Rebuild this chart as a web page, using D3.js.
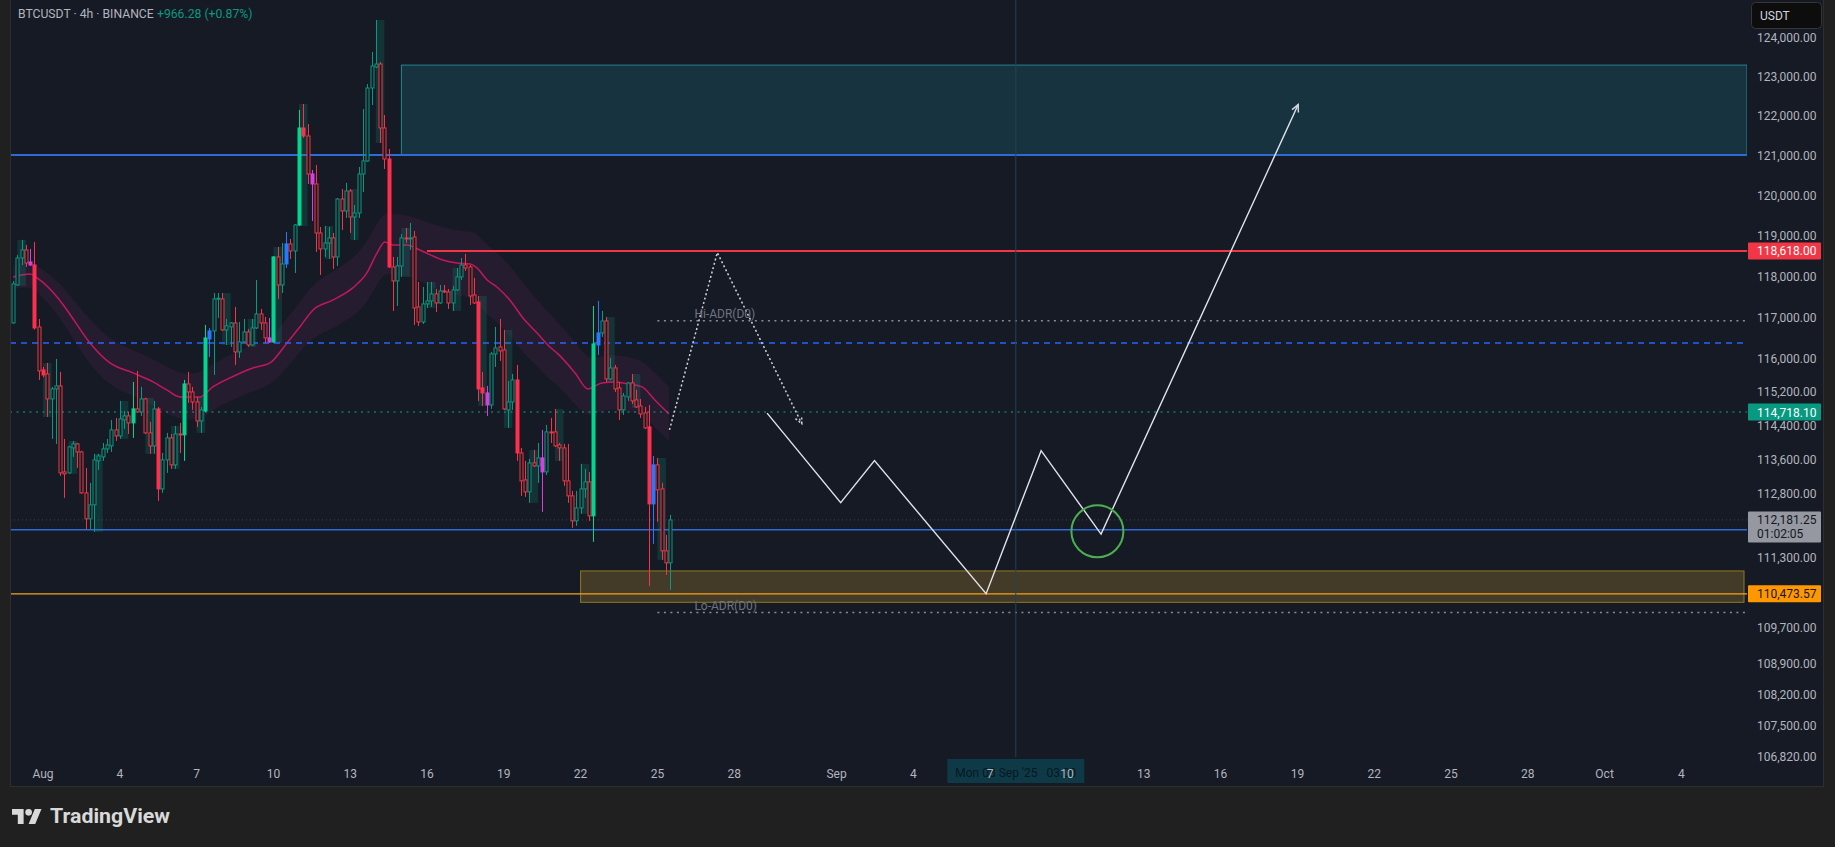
<!DOCTYPE html>
<html><head><meta charset="utf-8">
<script src="https://cdn.jsdelivr.net/npm/d3@7"></script>
<style>
html,body{margin:0;padding:0;background:#202020;overflow:hidden}
svg{display:block}
text{font-family:Roboto,"Noto Sans",sans-serif}
</style></head><body>
<svg id="c" width="1835" height="847"></svg>
<script>
// ---------------- DATA ----------------
const symbolTitle = "BTCUSDT · 4h · BINANCE";
const changeText = "+966.28 (+0.87%)";
const startTime = "2025-07-30T20:00:00Z";
const barHours = 4;

const opens = [116860,117784,118445,118642,118347,118273,116763,115726,115630,115032,
115271,115343,113304,113280,113869,113964,113775,112812,112205,112532,
113563,113657,113846,113917,114295,114153,114532,114627,114461,114794,
114722,115032,114224,113917,114794,112905,113586,114106,113469,114200,
114177,115390,115199,114960,114508,114746,116472,116666,117442,117442,
116690,116763,116859,116159,116400,116642,116327,116738,117078,116859,
116496,116400,118470,117784,118298,118790,118617,119258,121682,121480,
120527,120277,119061,118667,118814,118938,118470,119903,119605,120102,
119456,119556,120527,120852,122695,123231,123307,121682,120902,118224,
117882,118249,118938,118913,118962,117248,116883,117321,117394,117564,
117345,117638,117613,117345,117662,117980,118273,118224,117540,117370,
115295,115175,114889,116111,116279,116207,114770,114960,115486,113751,
113116,112835,113516,113445,113633,113304,114248,114248,113940,113869,
113093,112742,112159,112461,112905,113069,112275,116327,116617,116907,
115510,115774,115295,114770,115080,115414,115008,114865,114699,114366,
112555,113469,112905,111463,111186];
const highs = [117880,118519,118888,118765,118667,118839,116956,115800,115894,115319,
115990,115678,114082,113920,114034,113987,113800,113398,113046,113728,
113728,113987,114082,114532,114580,114984,114746,114722,115438,115702,
115319,115060,114484,114984,114841,113751,114224,114200,114390,114461,
115486,115678,115319,115080,114841,116811,116738,117589,117589,117589,
116956,116880,117248,116883,116956,116714,116956,117906,117199,117005,
116980,118490,118716,118814,119086,118913,119283,122137,122289,121783,
120627,120752,119209,119234,119209,119061,119928,120152,120302,120152,
119754,120702,122162,122797,123615,124438,123359,122010,121153,118470,
118470,119036,119184,119308,119110,117857,117735,117857,117857,117686,
117784,117784,117686,117760,118200,118445,118544,118273,117955,117515,
115678,115343,116159,116763,116956,116690,115462,115630,115846,113869,
113563,113610,113822,113987,114295,114414,114580,114794,113987,113964,
113964,112859,112859,113492,113375,113304,117272,117394,117151,117005,
116014,115846,115438,115175,115438,115630,115247,115032,114841,114889,
113680,113633,113046,111833,112298];
const lows = [116840,117760,118273,118224,118249,116700,115486,115550,114603,114082,
113964,113210,112695,113260,113657,113398,112790,111972,111972,111903,
113351,113563,113751,113775,114034,114082,114319,114200,114106,114699,
114627,114200,113728,113728,112625,112812,113280,113375,113375,113751,
113563,114937,114770,114366,114224,114720,116039,115606,116980,116666,
116327,116279,115846,116014,116376,116279,116303,116710,116690,116376,
116376,116376,117442,117589,118200,118421,118077,119230,121430,120277,
119357,118593,118028,118470,118421,118175,118249,119135,119432,119061,
118888,119432,120077,120830,122263,123200,121303,120652,118200,117151,
117272,117980,118814,118642,116811,116787,116835,117223,117248,117126,
117321,117589,117199,117151,117638,117906,118126,117297,117320,114984,
114865,114627,114794,115798,115942,114770,114342,114770,113563,112742,
112718,112578,113422,113046,112368,113233,113987,113893,113563,112975,
112578,111996,112042,112322,112695,112159,111671,116087,116520,115438,
115480,115199,114532,114651,114984,114913,114818,114580,114319,110657,
111624,112135,111255,110910,110565];
const closes = [117810,118445,118642,118322,118273,116738,115702,115606,115032,115271,
115343,113280,113257,113893,113964,113775,112812,112205,112532,113586,
113680,113846,113940,114295,114153,114556,114627,114461,114794,114722,
115032,114224,113917,114794,112905,113586,114106,113469,114200,114177,
115390,115199,114960,114508,114770,116496,116666,117442,117460,116690,
116787,116859,116159,116400,116642,116327,116738,117078,116859,116496,
116400,118470,117784,118298,118790,118617,119258,121682,121480,120527,
120277,119061,118667,118814,118938,118470,119903,119605,120102,119456,
119556,120527,120852,122695,123256,123307,121682,120902,118224,117882,
118249,118938,118913,118938,117223,116883,117321,117394,117564,117345,
117638,117613,117345,117662,117980,118273,118200,117515,117345,115271,
115175,114889,116111,116255,116183,114794,114960,115486,113751,113093,
112835,113516,113445,113633,113304,114248,114224,113917,113869,113093,
112742,112159,112461,112905,113069,112275,116351,116617,116907,115510,
115774,115271,114770,115104,115414,114984,114841,114675,114342,112555,
113469,112882,111463,111186,112181.25];
// volume class: 0 normal, 1 climax volume, 2 above-average volume
const volClass = [0,0,0,0,2,1,0,1,0,0, 0,0,0,0,0,0,0,0,0,0,
0,0,0,0,0,0,0,0,1,0, 0,0,0,0,1,0,0,0,0,0, 1,0,0,0,0,1,2,0,0,0,
0,0,0,0,0,0,0,0,0,0, 2,1,0,0,2,0,0,1,1,0, 2,0,0,0,0,0,0,0,0,0,
0,0,0,0,0,0,0,0,1,0, 0,0,0,0,0,0,0,0,0,0, 0,0,0,0,0,0,0,0,0,1,
1,2,0,0,0,0,0,0,1,0, 0,0,0,0,2,0,0,0,0,0, 0,0,0,0,0,0,1,2,0,0,
0,0,0,0,0,0,0,0,0,1, 2,0,0,0,0];

// moving average line (bar index -> value) and band half-width (USD)
const maIndex = [0,4,5.6,10.3,12.6,18,22.7,28.1,32.8,36,39.1,43.8,46.8,50.8,56.2,60.2,64.2,67.2,70.3,75,
79.6,82.9,85.3,87.1,89,92.3,95.3,100.7,104,107.1,108.7,111.1,113.4,116.4,119.5,122.8,125.8,127.7,131.7,134.7,
138,141,144.1,147.4,150.4,153.7];
const maValue = [117980,118053,117955,117491,117175,116376,115894,115654,115438,115247,115080,115080,115319,115534,115774,115894,116376,116763,117175,117418,
117711,118077,118568,118839,118765,118765,118642,118396,118322,118298,118200,117906,117735,117418,116980,116617,116279,116111,115654,115271,
115414,115438,115390,115319,115008,114675];
const maBand = [300,300,320,400,450,550,550,550,550,550,550,550,550,550,550,550,600,600,650,700,
700,750,750,750,750,750,750,800,800,800,850,850,850,850,850,800,800,750,750,700,
650,650,650,650,650,650];

// horizontal levels
const resistanceZone = {start:"2025-08-15T00:00:00Z", top:123280, bottom:121000};
const supportZone = {start:"2025-08-22T00:00:00Z", top:111000, bottom:110280};
const level121k = 121000;
const redLevel = {start:"2025-08-16T00:00:00Z", price:118618};
const hiADR = {start:"2025-08-25T00:00:00Z", price:116910, label:"Hi-ADR(D0)"};
const loADR = {start:"2025-08-25T00:00:00Z", price:110045, label:"Lo-ADR(D0)"};
const blueDashed = 116375;
const greenDotted = 114718.10;
const blueLower = 111950;
const lastPrice = 112181.25;
const countdown = "01:02:05";
const orangeLevel = 110473.57;

// drawings
const dotArrowTimes = ["2025-08-25T11:20:00Z","2025-08-27T08:10:00Z","2025-08-30T15:20:00Z"];
const dotArrowPrices = [114295,118578,114445];
const pathTimes = ["2025-08-29T06:50:00Z","2025-09-01T03:50:00Z","2025-09-02T11:30:00Z","2025-09-06T20:10:00Z","2025-09-08T23:45:00Z","2025-09-11T07:55:00Z","2025-09-19T00:45:00Z"];
const pathPrices = [114694,112585,113572,110478,113805,111852,122274];
const circleTime = "2025-09-11T04:30:00Z", circlePrice = 111916;
const crosshairTime = "2025-09-08T00:00:00Z";
const crosshairText = "Mon 08 Sep '25   03:00";

// axes
const priceTicks = [124000,123000,122000,121000,120000,119000,118000,117000,116000,115200,114400,113600,112800,111300,109700,108900,108200,107500,106820];
const timeTickDates = ["2025-08-01","2025-08-04","2025-08-07","2025-08-10","2025-08-13","2025-08-16","2025-08-19","2025-08-22","2025-08-25","2025-08-28",
"2025-09-01","2025-09-04","2025-09-07","2025-09-10","2025-09-13","2025-09-16","2025-09-19","2025-09-22","2025-09-25","2025-09-28","2025-10-01","2025-10-04"];
const timeTickLabels = ["Aug","4","7","10","13","16","19","22","25","28","Sep","4","7","10","13","16","19","22","25","28","Oct","4"];

// ---------------- CHART ----------------
const BG = "#161a25";
const svg = d3.select("#c");
const plotL = 10, plotR = 1747, plotT = 0, plotB = 757;

const x = d3.scaleUtc()
  .domain([new Date("2025-08-01T00:00:00Z"), new Date("2025-10-01T00:00:00Z")])
  .range([43, 43 + 61 * 25.6]);
const y = d3.scaleLog().domain([106820, 124000]).range([756, 37]);
const t0 = new Date(startTime).getTime();
const tOf = i => new Date(t0 + i * barHours * 3600e3);
const fmt = d3.format(",.2f");

svg.append("rect").attr("width", 1835).attr("height", 847).attr("fill", "#202020");
svg.append("rect").attr("x", 10.5).attr("y", -1).attr("width", 1813).attr("height", 787.5)
  .attr("fill", BG).attr("stroke", "#2e2e2e").attr("stroke-width", 1);

const defs = svg.append("defs");
defs.append("clipPath").attr("id", "plotClip").append("rect")
  .attr("x", plotL + 1).attr("y", plotT).attr("width", plotR - plotL - 1).attr("height", plotB - plotT);
const plot = svg.append("g").attr("clip-path", "url(#plotClip)");

// zones
plot.append("rect")
  .attr("x", x(new Date(resistanceZone.start))).attr("y", y(resistanceZone.top))
  .attr("width", plotR - x(new Date(resistanceZone.start)))
  .attr("height", y(resistanceZone.bottom) - y(resistanceZone.top))
  .attr("fill", "rgba(32,156,172,0.2)").attr("stroke", "rgba(38,166,176,0.75)").attr("stroke-width", 1);
plot.append("rect")
  .attr("x", x(new Date(supportZone.start))).attr("y", y(supportZone.top))
  .attr("width", plotR - 3 - x(new Date(supportZone.start)))
  .attr("height", y(supportZone.bottom) - y(supportZone.top))
  .attr("fill", "rgba(226,176,51,0.22)").attr("stroke", "#8c7a26").attr("stroke-width", 1);

// MA band + line
const maPts = maIndex.map((k, j) => ({t: tOf(k), v: maValue[j], b: maBand[j]}));
plot.append("path").datum(maPts)
  .attr("d", d3.area().x(d => x(d.t)).y0(d => y(d.v - d.b)).y1(d => y(d.v + d.b)).curve(d3.curveBasis))
  .attr("fill", "rgba(136,40,110,0.14)");
plot.append("path").datum(maPts)
  .attr("d", d3.line().x(d => x(d.t)).y(d => y(d.v)).curve(d3.curveMonotoneX))
  .attr("fill", "none").attr("stroke", "#c2185b").attr("stroke-width", 1.5);

// horizontal lines
function hline(x0, price, color, width, dash) {
  const l = plot.append("line").attr("x1", x0).attr("x2", plotR)
    .attr("y1", y(price)).attr("y2", y(price))
    .attr("stroke", color).attr("stroke-width", width);
  if (dash) l.attr("stroke-dasharray", dash);
  return l;
}
hline(plotL, lastPrice, "rgba(150,152,160,0.35)", 1, "1,3");
hline(plotL, level121k, "#2f6bd8", 2);
hline(x(new Date(redLevel.start)), redLevel.price, "#f23645", 2);
hline(x(new Date(hiADR.start)), hiADR.price, "#8a8d96", 1.5, "2,4.5");
hline(plotL, blueDashed, "#2962ff", 1.5, "6,5");
hline(plotL, greenDotted, "rgba(8,153,129,0.75)", 1.5, "2,4.5");
hline(plotL, blueLower, "#2f6bd8", 1.5);
hline(plotL, orangeLevel, "#f7a21b", 1.2);
hline(x(new Date(loADR.start)), loADR.price, "#8a8d96", 1.5, "2,4.5");

// crosshair
const cx0 = x(new Date(crosshairTime));
svg.append("line").attr("x1", cx0).attr("x2", cx0).attr("y1", 0).attr("y2", plotB)
  .attr("stroke", "#23434e").attr("stroke-width", 1);

// daily session boxes (first two bars of each day)
const sessions = [];
for (let i = 0; i < opens.length - 1; i++) {
  if (tOf(i).getUTCHours() === 0) {
    sessions.push({
      x0: x(tOf(i)), x1: x(tOf(i + 2)),
      hi: Math.max(highs[i], highs[i + 1]), lo: Math.min(lows[i], lows[i + 1])
    });
  }
}
plot.append("g").selectAll("rect").data(sessions).join("rect")
  .attr("x", d => d.x0).attr("width", d => d.x1 - d.x0)
  .attr("y", d => y(d.hi)).attr("height", d => y(d.lo) - y(d.hi))
  .attr("fill", "rgba(8,153,129,0.2)");

// candles
const candles = opens.map((o, i) => ({i, o, h: highs[i], l: lows[i], c: closes[i], v: volClass[i]}));
function colorOf(d) {
  const up = d.c >= d.o;
  if (d.v === 1) return up ? "#00d68f" : "#ff2f4d";
  if (d.v === 2) return up ? "#2979ff" : "#d63fe0";
  return up ? "#089981" : "#f23645";
}
const cg = plot.append("g");
const cs = cg.selectAll("g").data(candles).join("g");
cs.append("line")
  .attr("x1", d => Math.round(x(tOf(d.i))) + 0.5).attr("x2", d => Math.round(x(tOf(d.i))) + 0.5)
  .attr("y1", d => y(d.h)).attr("y2", d => y(d.l))
  .attr("stroke", colorOf).attr("stroke-width", 1);
cs.append("rect")
  .attr("x", d => Math.round(x(tOf(d.i))) - 1)
  .attr("y", d => y(Math.max(d.o, d.c)))
  .attr("width", 3)
  .attr("height", d => Math.max(1, y(Math.min(d.o, d.c)) - y(Math.max(d.o, d.c))))
  .attr("fill", d => d.v ? colorOf(d) : BG)
  .attr("stroke", colorOf).attr("stroke-width", 1);

// drawings
function arrowHead(p1, p2, dashed) {
  const ang = Math.atan2(p2[1] - p1[1], p2[0] - p1[0]);
  const L = 8, a = Math.PI / 7;
  const pts = [[p2[0] - L * Math.cos(ang - a), p2[1] - L * Math.sin(ang - a)], p2,
               [p2[0] - L * Math.cos(ang + a), p2[1] - L * Math.sin(ang + a)]];
  const pth = svg.append("path").attr("d", d3.line()(pts)).attr("fill", "none")
    .attr("stroke", "#d1d4dc").attr("stroke-width", 1.5);
  if (dashed) pth.attr("stroke-dasharray", "2,2");
}
const dotPts = dotArrowTimes.map((t, j) => [x(new Date(t)), y(dotArrowPrices[j])]);
svg.append("path").attr("d", d3.line()(dotPts)).attr("fill", "none")
  .attr("stroke", "#d1d4dc").attr("stroke-width", 1.5).attr("stroke-dasharray", "2,2.5");
arrowHead(dotPts[1], dotPts[2], true);

const zPts = pathTimes.map((t, j) => [x(new Date(t)), y(pathPrices[j])]);
svg.append("path").attr("d", d3.line()(zPts)).attr("fill", "none")
  .attr("stroke", "#e0e3eb").attr("stroke-width", 1.4);
arrowHead(zPts[zPts.length - 2], zPts[zPts.length - 1], false);

svg.append("circle").attr("cx", x(new Date(circleTime))).attr("cy", y(circlePrice)).attr("r", 26)
  .attr("fill", "none").attr("stroke", "#4caf50").attr("stroke-width", 2);

// ADR labels
[hiADR, loADR].forEach(o => {
  svg.append("text").attr("x", x(new Date(o.start)) + 37).attr("y", y(o.price) - 3)
    .attr("fill", "#6f7380").attr("font-size", 12).text(o.label);
});

// price axis
svg.append("g").selectAll("text").data(priceTicks).join("text")
  .attr("x", 1757).attr("y", d => y(d) + 4.5)
  .attr("fill", "#b2b5be").attr("font-size", 12).text(d => fmt(d));

function tag(price, bg, fg, text2) {
  const yy = y(price);
  const h = text2 ? 31 : 17;
  svg.append("rect").attr("x", 1748).attr("y", yy - 8.5).attr("width", 73).attr("height", h)
    .attr("rx", 1).attr("fill", bg);
  svg.append("text").attr("x", 1757).attr("y", yy + 4.5).attr("fill", fg).attr("font-size", 12).text(fmt(price));
  if (text2) svg.append("text").attr("x", 1757).attr("y", yy + 18.5).attr("fill", fg).attr("font-size", 12).text(text2);
}
tag(redLevel.price, "#f23645", "#ffffff");
tag(greenDotted, "#089981", "#ffffff");
tag(lastPrice, "#9598a1", "#131722", countdown);
tag(orangeLevel, "#ff9800", "#131722");

// USDT button
svg.append("rect").attr("x", 1751.5).attr("y", 2.5).attr("width", 70).attr("height", 26).attr("rx", 4)
  .attr("fill", "#0d0d0d").attr("stroke", "#363636");
svg.append("text").attr("x", 1760).attr("y", 20).attr("fill", "#d1d4dc").attr("font-size", 12).text("USDT");

// crosshair label on time axis
svg.append("rect").attr("x", cx0 - 68.5).attr("y", 759).attr("width", 137).attr("height", 24)
  .attr("fill", "#0e3a48");
svg.append("text").attr("x", cx0).attr("y", 777).attr("text-anchor", "middle")
  .attr("fill", "#08181e").attr("font-size", 12).attr("xml:space", "preserve").text(crosshairText);

// time axis
svg.append("g").selectAll("text").data(timeTickDates).join("text")
  .attr("x", d => x(new Date(d + "T00:00:00Z"))).attr("y", 777.5)
  .attr("text-anchor", "middle").attr("fill", "#b2b5be").attr("font-size", 12)
  .text((d, j) => timeTickLabels[j]);

// header
svg.append("text").attr("x", 18).attr("y", 18).attr("fill", "#b2b5be").attr("font-size", 12.2).text(symbolTitle);
svg.append("text").attr("x", 157).attr("y", 18).attr("fill", "#089981").attr("font-size", 12.2).text(changeText);

// TradingView logo
const logo = svg.append("g").attr("transform", "translate(12,805.7) scale(0.83)").attr("fill", "#d9d9d9");
logo.append("path").attr("d", "M14 22H7V11H0V4h14v18zM28 22h-8l7.5-18h8L28 22z");
logo.append("circle").attr("cx", 20).attr("cy", 8).attr("r", 4);
svg.append("text").attr("x", 50).attr("y", 823).attr("fill", "#d9d9d9").attr("font-size", 20)
  .attr("font-weight", 700).attr("textLength", 120).attr("lengthAdjust", "spacingAndGlyphs").text("TradingView");
</script>
</body></html>
